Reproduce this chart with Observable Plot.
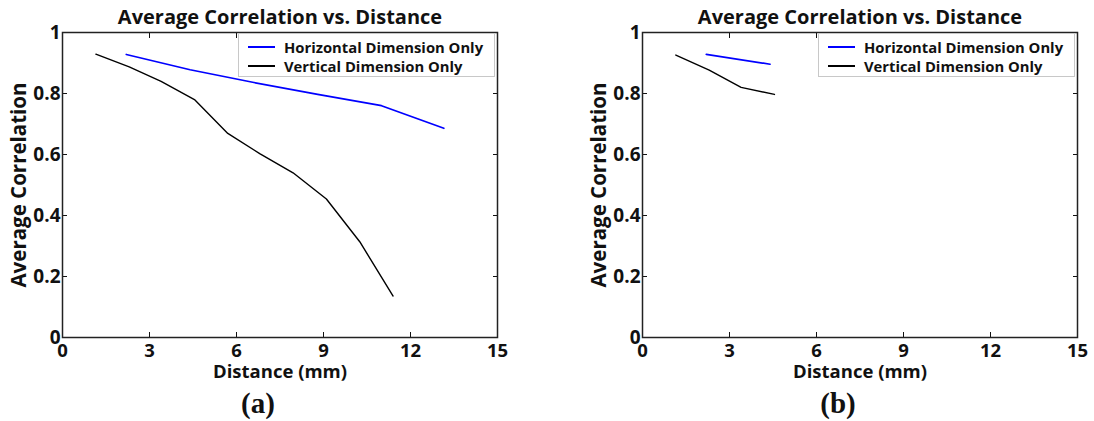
<!DOCTYPE html>
<html>
<head>
<meta charset="utf-8">
<script src="https://cdn.jsdelivr.net/npm/d3@7"></script>
<script src="https://cdn.jsdelivr.net/npm/@observablehq/plot@0.6"></script>
<style>
  html, body { margin: 0; padding: 0; background: #fff; }
  #wrap { position: relative; width: 1094px; height: 421px; overflow: hidden; background: #fff; }
  .panel { position: absolute; top: 0; }
  .legend { position: absolute; top: 33px; width: 255px; height: 42px; border: 1px solid #c8c8c8; background: #fff; z-index: 5;
            font-family: "Open Sans", "Noto Sans", sans-serif; font-weight: bold; font-size: 14.8px; color: #111; }
  .legend .row { position: absolute; left: 45px; height: 20px; line-height: 20px; white-space: nowrap; }
  .legend .sw { position: absolute; left: -36px; top: 9px; width: 27px; height: 2px; }
</style>
</head>
<body>
<div id="wrap"></div>
<script>
// ---- data ----
const titleText = "Average Correlation vs. Distance";
const xLabel = "Distance (mm)";
const yLabel = "Average Correlation";
const seriesNames = ["Horizontal Dimension Only", "Vertical Dimension Only"];
const seriesColors = ["#0000ff", "#000000"];
const xTicks = [0, 3, 6, 9, 12, 15];
const yTicks = [0, 0.2, 0.4, 0.6, 0.8, 1];
const panelTags = ["(a)", "(b)"];

// panel (a)
const horizDistA = [2.2, 4.4, 6.6, 8.8, 11.0, 13.15];
const horizCorrA = [0.928, 0.878, 0.836, 0.797, 0.760, 0.686];
const vertDistA = [1.15, 2.3, 3.4, 4.55, 5.7, 6.8, 7.95, 9.1, 10.25, 11.4];
const vertCorrA = [0.929, 0.887, 0.840, 0.780, 0.669, 0.603, 0.540, 0.454, 0.314, 0.136];

// panel (b)
const horizDistB = [2.2, 4.4];
const horizCorrB = [0.928, 0.896];
const vertDistB = [1.15, 2.3, 3.4, 4.55];
const vertCorrB = [0.926, 0.877, 0.820, 0.797];

const FONT = "'Open Sans', 'Noto Sans', sans-serif";

function makeChart(hx, hy, vx, vy, tag) {
  const hData = hx.map((d, i) => ({x: d, y: hy[i]}));
  const vData = vx.map((d, i) => ({x: d, y: vy[i]}));
  const yFmt = d => (d === 0 ? "0" : d === 1 ? "1" : d3.format(".1f")(d));
  return Plot.plot({
    width: 514, height: 421,
    marginLeft: 62, marginRight: 17, marginTop: 32, marginBottom: 84,
    style: {fontFamily: FONT, fontWeight: "bold", fontSize: "19px", color: "#111", background: "transparent", overflow: "visible"},
    x: {domain: [0, 15]},
    y: {domain: [0, 1]},
    marks: [
      Plot.axisX({anchor: "bottom", ticks: xTicks, tickSize: -5, tickPadding: 11, tickFormat: d => String(d), label: null, fontSize: 18.5}),
      Plot.axisX({anchor: "top", ticks: xTicks, tickSize: -5, tickFormat: () => "", label: null}),
      Plot.axisY({anchor: "left", ticks: yTicks, tickSize: -5, tickPadding: 7, tickFormat: yFmt, label: null, fontSize: 19}),
      Plot.axisY({anchor: "right", ticks: yTicks, tickSize: -5, tickFormat: () => "", label: null}),
      Plot.frame({stroke: "#222", strokeWidth: 1.5}),
      Plot.line(vData, {x: "x", y: "y", stroke: seriesColors[1], strokeWidth: 1.4}),
      Plot.line(hData, {x: "x", y: "y", stroke: seriesColors[0], strokeWidth: 1.7}),
      Plot.text([titleText], {frameAnchor: "top", lineAnchor: "middle", textAnchor: "middle", dy: -14.5, fontSize: 20, fontWeight: "bold", fill: "#111"}),
      Plot.text([xLabel], {frameAnchor: "bottom", lineAnchor: "middle", textAnchor: "middle", dy: 35, fontSize: 18.5, fontWeight: "bold", fill: "#111"}),
      Plot.text([yLabel], {frameAnchor: "left", lineAnchor: "middle", textAnchor: "middle", dx: -43.5, rotate: -90, fontSize: 20.5, fontWeight: "bold", fill: "#111"}),
      Plot.text([tag], {frameAnchor: "bottom", lineAnchor: "middle", textAnchor: "middle", dx: -22, dy: 66, fontFamily: "'Liberation Serif', 'Times New Roman', serif", fontSize: 29, fontWeight: "bold", fill: "#111"})
    ]
  });
}

const wrap = document.getElementById("wrap");
const panels = [
  {left: 0, chart: makeChart(horizDistA, horizCorrA, vertDistA, vertCorrA, panelTags[0]), legendLeft: 238},
  {left: 580, chart: makeChart(horizDistB, horizCorrB, vertDistB, vertCorrB, panelTags[1]), legendLeft: 818}
];
for (const p of panels) {
  const div = document.createElement("div");
  div.className = "panel";
  div.style.left = p.left + "px";
  div.appendChild(p.chart);
  wrap.appendChild(div);
  const lg = document.createElement("div");
  lg.className = "legend";
  lg.style.left = p.legendLeft + "px";
  seriesNames.forEach((name, i) => {
    const row = document.createElement("div");
    row.className = "row";
    row.style.top = (i === 0 ? 3 : 22) + "px";
    const sw = document.createElement("span");
    sw.className = "sw";
    sw.style.background = seriesColors[i];
    row.appendChild(sw);
    row.appendChild(document.createTextNode(name));
    lg.appendChild(row);
  });
  wrap.appendChild(lg);
}
</script>
</body>
</html>
